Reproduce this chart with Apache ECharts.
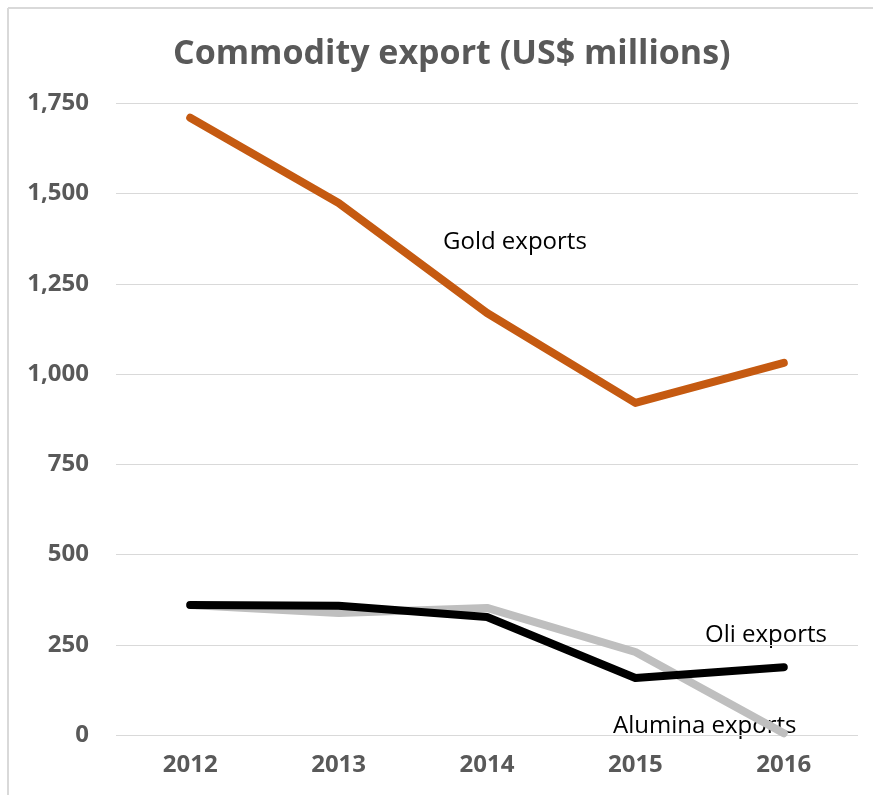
<!DOCTYPE html>
<html><head><meta charset="utf-8">
<script src="https://cdn.jsdelivr.net/npm/echarts@6/dist/echarts.min.js"></script>
<style>html,body{margin:0;padding:0;background:#fff}#c{width:873px;height:795px}</style>
</head><body><div id="c"></div>
<script>
const categories = ['2012','2013','2014','2015','2016'];
const goldExports = [1710, 1474, 1169, 920, 1031];
const oliExports = [360, 358, 327, 158, 188];
const aluminaExports = [360, 338, 352, 230, 5];
const yTicks = [0, 250, 500, 750, 1000, 1250, 1500, 1750];

const chart = echarts.init(document.getElementById('c'), null, {renderer:'canvas'});
const FONT = '"Open Sans", "Liberation Sans", sans-serif';
chart.setOption({
  animation: false,
  backgroundColor: '#fff',
  title: {
    text: 'Commodity export (US$ millions)',
    left: 168, top: 32,
    textStyle: {fontFamily: FONT, fontWeight: 'bold', fontSize: 34, color: '#595959'}
  },
  grid: {left: 116, right: 15, top: 103.3, bottom: 60, containLabel: false},
  xAxis: {
    type: 'category', data: categories, boundaryGap: true,
    axisLine: {show: false}, axisTick: {show: false},
    axisLabel: {fontFamily: FONT, fontWeight: 'bold', fontSize: 24, color: '#595959', margin: 18}
  },
  yAxis: {
    type: 'value', min: yTicks[0], max: yTicks[yTicks.length-1], interval: 250,
    axisLine: {show: false}, axisTick: {show: false},
    splitLine: {lineStyle: {color: '#d9d9d9', width: 1}},
    axisLabel: {fontFamily: FONT, fontWeight: 'bold', fontSize: 24, color: '#595959', margin: 27,
      formatter: v => v.toLocaleString('en-US')}
  },
  series: [
    {name: 'Alumina exports', type: 'line', data: aluminaExports, symbol: 'none',
     lineStyle: {color: '#bfbfbf', width: 8, cap: 'round', join: 'round'}},
    {name: 'Oli exports', type: 'line', data: oliExports, symbol: 'none',
     lineStyle: {color: '#000000', width: 8, cap: 'round', join: 'round'}},
    {name: 'Gold exports', type: 'line', data: goldExports, symbol: 'none',
     lineStyle: {color: '#c55a11', width: 8, cap: 'round', join: 'round'}}
  ],
  graphic: [
    {type: 'line', silent: true, z: -10, shape: {x1: 8, y1: 8, x2: 873, y2: 8},
     style: {stroke: '#d9d9d9', lineWidth: 2}},
    {type: 'line', silent: true, z: -10, shape: {x1: 8, y1: 8, x2: 8, y2: 795},
     style: {stroke: '#d9d9d9', lineWidth: 2}},
    {type: 'text', left: 443, top: 230, style: {text: 'Gold exports', fontFamily: FONT, fontSize: 24, fill: '#000'}},
    {type: 'text', left: 705, top: 623, style: {text: 'Oli exports', fontFamily: FONT, fontSize: 24, fill: '#000'}},
    {type: 'text', left: 613, top: 714, style: {text: 'Alumina exports', fontFamily: FONT, fontSize: 24, fill: '#000'}}
  ]
});
</script></body></html>
